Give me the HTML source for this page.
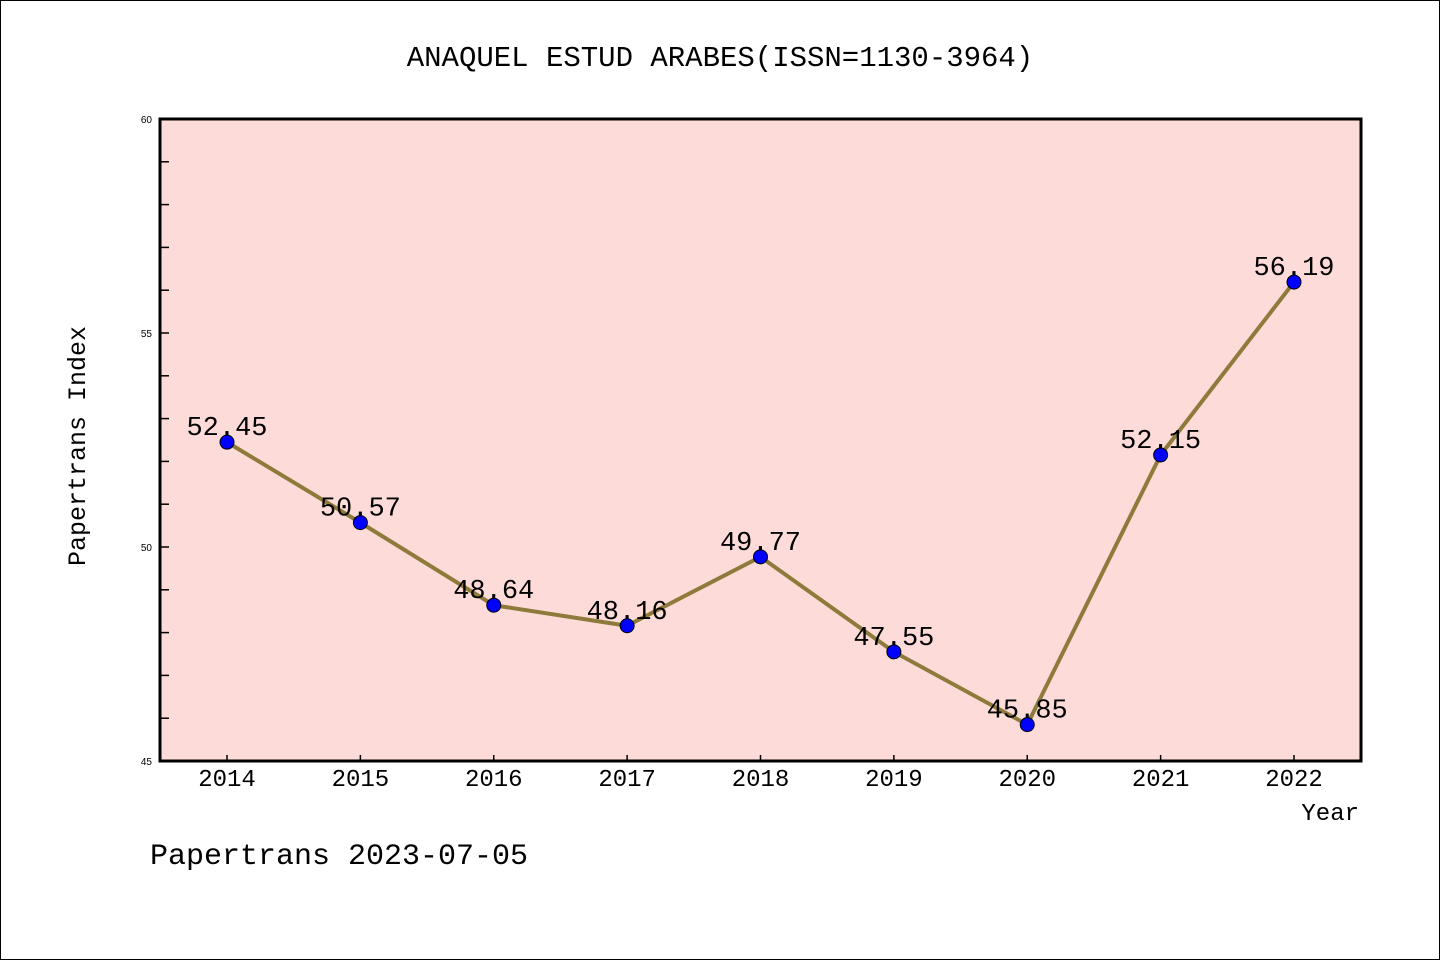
<!DOCTYPE html>
<html><head><meta charset="utf-8"><style>
body{margin:0;background:#fff;}
svg{display:block;font-family:"Liberation Mono","WenQuanYi Zen Hei",monospace;}
</style></head><body>
<svg id="chart" width="1440" height="960" viewBox="0 0 1440 960">
<rect x="0.5" y="0.5" width="1439" height="959" fill="#fff" stroke="#000"/>
<text x="720" y="66" text-anchor="middle" font-size="29">ANAQUEL ESTUD ARABES(ISSN=1130-3964)</text>
<rect x="160" y="119" width="1201" height="642" fill="#fddbd8"/>
<g id="axes"></g>
<g id="marks"></g>
<rect x="160" y="119" width="1201" height="642" fill="none" stroke="#000" stroke-width="3"/>
<text transform="translate(85,446) rotate(-90)" text-anchor="middle" font-size="25">Papertrans Index</text>
<text x="1359" y="820" text-anchor="end" font-size="24">Year</text>
<text x="150" y="864" font-size="30">Papertrans 2023-07-05</text>
</svg>
<script>
const years=["2014","2015","2016","2017","2018","2019","2020","2021","2022"];
const values=[52.45,50.57,48.64,48.16,49.77,47.55,45.85,52.15,56.19];
const yTicks=[45,50,55,60];
const NS="http://www.w3.org/2000/svg";
const yMin=45,yMax=60,plotTop=119,plotBot=761;
function ys(v){return plotBot-(v-yMin)/(yMax-yMin)*(plotBot-plotTop);}
function xs(i){return 227+i*(1294-227)/(years.length-1);}
function mk(t,a,p){const e=document.createElementNS(NS,t);for(const k in a)e.setAttribute(k,a[k]);p.appendChild(e);return e;}
const ax=document.getElementById('axes'),mg=document.getElementById('marks');
for(let v=yMin;v<=yMax;v++){
  const l=mk('line',{x1:160,x2:169,y1:ys(v),y2:ys(v),stroke:'#000','stroke-width':1.5},ax);
  
  
}
yTicks.forEach(v=>{
  const t=mk('text',{x:152,y:ys(v)+4,'text-anchor':'end','font-size':10,'font-family':'Liberation Sans'},ax);
  t.textContent=v;
  
  
});
years.forEach((y,i)=>{
  const l=mk('line',{x1:xs(i),x2:xs(i),y1:plotBot,y2:plotBot-6,stroke:'#000','stroke-width':1.5},ax);
  
  
  const t=mk('text',{x:xs(i),y:786,'text-anchor':'middle','font-size':24},ax);
  t.textContent=y;
  
  
});
const pl=mk('polyline',{points:values.map((v,i)=>xs(i)+','+ys(v)).join(' '),fill:'none',stroke:'#8e7a3a','stroke-width':4},mg);


values.forEach((v,i)=>{
  const c=mk('circle',{cx:xs(i),cy:ys(v),r:7,fill:'#0000ff',stroke:'#000','stroke-width':1},mg);
  
  
  const t=mk('text',{x:xs(i),y:ys(v)-7,'text-anchor':'middle','font-size':27},mg);
  t.textContent=v.toFixed(2);
  
  
});
</script>
</body></html>
